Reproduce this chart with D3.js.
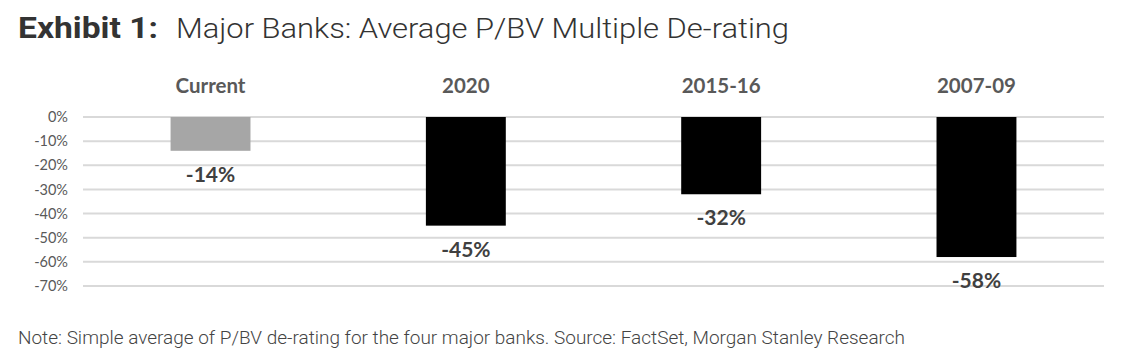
<!DOCTYPE html>
<html>
<head>
<meta charset="utf-8">
<script src="https://cdn.jsdelivr.net/npm/d3@7"></script>
<style>
  body { margin: 0; background: #fff; }
</style>
</head>
<body>
<svg id="chart"></svg>
<script>
var categories = ['Current', '2020', '2015-16', '2007-09'];
var values = [-14, -45, -32, -58];
var barColors = ['#a6a6a6', '#000000', '#000000', '#000000'];
var tickValues = [0, -10, -20, -30, -40, -50, -60, -70];

var width = 1121, height = 363;
var svg = d3.select('#chart')
	.attr('width', width)
	.attr('height', height);

var x = d3.scaleBand()
	.domain(categories)
	.range([83, 1104])
	.paddingInner(0.687)
	.paddingOuter(0.343);

var y = d3.scaleLinear()
	.domain([0, -70])
	.range([117, 286]);

// title
svg.append('text')
	.attr('x', 18).attr('y', 38)
	.attr('font-family', 'Roboto')
	.attr('font-weight', 700)
	.attr('font-size', 29)
	.attr('fill', '#333')
	.attr('textLength', 140)
	.attr('lengthAdjust', 'spacingAndGlyphs')
	.text('Exhibit 1:');

svg.append('text')
	.attr('x', 176).attr('y', 38)
	.attr('font-family', 'Roboto')
	.attr('font-weight', 300)
	.attr('font-size', 28)
	.attr('fill', '#333')
	.attr('textLength', 613)
	.attr('lengthAdjust', 'spacingAndGlyphs')
	.text('Major Banks: Average P/BV Multiple De-rating');

// gridlines
svg.append('g')
	.selectAll('line')
	.data(tickValues)
	.enter()
	.append('line')
	.attr('x1', 83).attr('x2', 1104)
	.attr('y1', function(d) { return y(d); })
	.attr('y2', function(d) { return y(d); })
	.attr('stroke', '#d9d9d9')
	.attr('stroke-width', 2);

// y axis labels
var yAxis = svg.append('g')
	.attr('transform', 'translate(68,0)')
	.call(d3.axisLeft(y).tickValues(tickValues).tickSize(0).tickPadding(0)
		.tickFormat(function(d) { return d + '%'; }));
yAxis.select('.domain').remove();
yAxis.selectAll('text')
	.attr('font-family', 'Lato')
	.attr('font-size', 14.5)
	.attr('fill', '#595959');

// category labels at top
svg.append('g')
	.selectAll('text')
	.data(categories)
	.enter()
	.append('text')
	.attr('x', function(d) { return x(d) + x.bandwidth() / 2; })
	.attr('y', 93)
	.attr('text-anchor', 'middle')
	.attr('font-family', 'Lato')
	.attr('font-weight', 700)
	.attr('font-size', 20.5)
	.attr('fill', '#595959')
	.text(function(d) { return d; });

// bars
svg.append('g')
	.selectAll('rect')
	.data(values)
	.enter()
	.append('rect')
	.attr('x', function(d, i) { return x(categories[i]); })
	.attr('y', y(0))
	.attr('width', x.bandwidth())
	.attr('height', function(d) { return y(d) - y(0); })
	.attr('fill', function(d, i) { return barColors[i]; });

// value labels
svg.append('g')
	.selectAll('text')
	.data(values)
	.enter()
	.append('text')
	.attr('x', function(d, i) { return x(categories[i]) + x.bandwidth() / 2; })
	.attr('y', function(d) { return y(d) + 31; })
	.attr('text-anchor', 'middle')
	.attr('font-family', 'Lato')
	.attr('font-weight', 700)
	.attr('font-size', 21)
	.attr('fill', '#404040')
	.text(function(d) { return d + '%'; });

// note
svg.append('text')
	.attr('x', 18).attr('y', 344)
	.attr('font-family', 'Roboto')
	.attr('font-weight', 300)
	.attr('font-size', 18.5)
	.attr('fill', '#444')
	.attr('textLength', 887)
	.attr('lengthAdjust', 'spacingAndGlyphs')
	.text('Note: Simple average of P/BV de-rating for the four major banks. Source: FactSet, Morgan Stanley Research');
</script>
</body>
</html>
